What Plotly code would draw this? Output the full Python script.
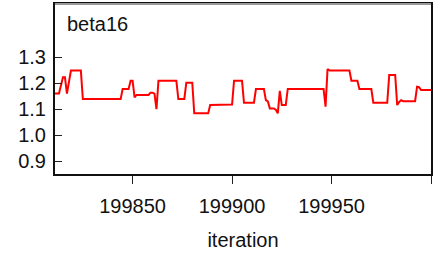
import plotly.graph_objects as go

iterations = [199811, 199813, 199815, 199816, 199817, 199819, 199824, 199825, 199844, 199845,
              199848, 199849, 199850, 199851, 199852, 199858, 199859, 199860, 199861, 199862,
              199863, 199872, 199873, 199876, 199877, 199880, 199881, 199888, 199889, 199899,
              199900, 199901, 199905, 199906, 199911, 199912, 199916, 199917, 199918, 199919,
              199921, 199922, 199923, 199924, 199925, 199927, 199928, 199946, 199947, 199948,
              199949, 199959, 199960, 199963, 199964, 199970, 199971, 199978, 199979, 199982,
              199983, 199984, 199985, 199986, 199992, 199993, 199994, 199995, 200000]
beta16 = [1.161, 1.161, 1.223, 1.223, 1.160, 1.249, 1.249, 1.139, 1.139, 1.178,
          1.178, 1.210, 1.210, 1.146, 1.155, 1.155, 1.164, 1.164, 1.160, 1.100,
          1.210, 1.210, 1.139, 1.139, 1.202, 1.202, 1.084, 1.084, 1.116, 1.116,
          1.118, 1.210, 1.210, 1.125, 1.125, 1.178, 1.178, 1.135, 1.130, 1.103,
          1.103, 1.098, 1.084, 1.171, 1.116, 1.116, 1.178, 1.178, 1.110, 1.255,
          1.249, 1.249, 1.210, 1.210, 1.178, 1.178, 1.125, 1.125, 1.232, 1.232,
          1.116, 1.128, 1.135, 1.131, 1.131, 1.187, 1.185, 1.174, 1.174]

x_tickvals = [199850, 199900, 199950, 200000]
x_ticktext = ["199850", "199900", "199950", ""]
y_tickvals = [0.9, 1.0, 1.1, 1.2, 1.3]
y_ticktext = ["0.9", "1.0", "1.1", "1.2", "1.3"]

FONT = "Liberation Sans, Arial, sans-serif"

fig = go.Figure()
fig.add_trace(go.Scatter(x=iterations, y=beta16, mode="lines",
                         line=dict(color="#ff0000", width=2), hoverinfo="skip"))

fig.update_layout(
    width=433, height=257,
    margin=dict(l=55, r=2, t=4, b=83),
    paper_bgcolor="white", plot_bgcolor="white",
    showlegend=False,
    font=dict(family=FONT, size=20, color="#111111"),
    xaxis=dict(range=[199811, 200000], tickvals=x_tickvals, ticktext=x_ticktext,
               ticks="outside", ticklen=8, tickwidth=1, tickcolor="#222",
               showgrid=False, zeroline=False, showline=True, linecolor="#111",
               linewidth=2, mirror=True, automargin=False, ticklabelstandoff=5,
               title=dict(text="iteration", font=dict(size=20), standoff=17),
               tickfont=dict(size=20)),
    yaxis=dict(range=[0.85, 1.506], tickvals=y_tickvals, ticktext=y_ticktext,
               ticks="inside", ticklen=7, tickwidth=1, tickcolor="#222",
               showgrid=False, zeroline=False, showline=True, linecolor="#111",
               linewidth=2, mirror=True, automargin=False,
               tickfont=dict(size=20), ticklabelstandoff=3),
    shapes=[dict(type="line", xref="paper", yref="paper", x0=0, x1=1, y0=1, y1=1,
                 line=dict(color="#999999", width=2), layer="above")],
    annotations=[dict(text="beta16", xref="paper", yref="paper", x=0.027, y=0.88,
                      xanchor="left", yanchor="middle", showarrow=False,
                      font=dict(size=20, family=FONT, color="#111111"))],
)

fig.write_html("out.html", config={"displayModeBar": False},
               post_script="document.body.style.margin='0';document.body.style.padding='0';document.body.style.overflow='hidden';")
